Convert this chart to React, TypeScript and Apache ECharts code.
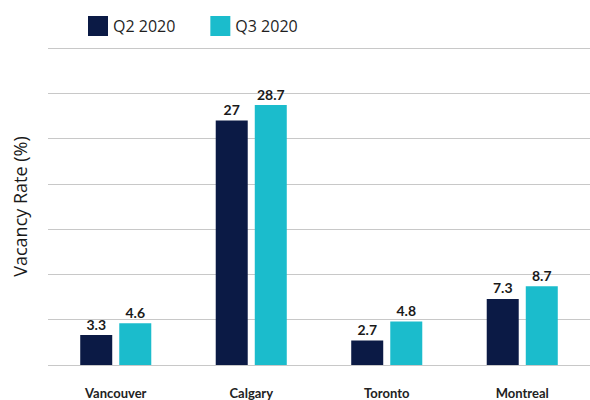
import React, { useEffect, useRef } from "react";
import * as echarts from "echarts";

const categories = ["Vancouver", "Calgary", "Toronto", "Montreal"];
const q2Values = [3.3, 27, 2.7, 7.3];
const q3Values = [4.6, 28.7, 4.8, 8.7];
const seriesNames = ["Q2 2020", "Q3 2020"];

export default function App() {
  const ref = useRef<HTMLDivElement>(null);
  useEffect(() => {
    if (!ref.current) return;
    const chart = echarts.init(ref.current, null, { renderer: "svg" });
    const labelStyle = {
      show: true,
      position: "top",
      distance: 4,
      color: "#1a1a1a",
      fontWeight: "bold",
      fontSize: 14,
      fontFamily: "Lato",
    };
    chart.setOption({
      animation: false,
      legend: {
        top: 11,
        left: 83,
        itemWidth: 20,
        itemHeight: 20,
        itemGap: 35,
        icon: "rect",
        textStyle: { fontSize: 16, color: "#1f1f1f", fontFamily: "Open Sans" },
        data: seriesNames,
      },
      grid: { left: 48, right: -10, top: 48, bottom: 35 },
      xAxis: {
        type: "category",
        data: categories,
        axisLine: { show: false },
        axisTick: { show: false },
        axisLabel: {
          margin: 21,
          color: "#222",
          fontSize: 13,
          fontWeight: "bold",
          fontFamily: "Lato",
        },
      },
      yAxis: {
        type: "value",
        min: 0,
        max: 35,
        interval: 5,
        name: "Vacancy Rate (%)",
        nameLocation: "middle",
        nameGap: 19,
        nameRotate: 90,
        nameTextStyle: { fontSize: 18, color: "#1a1a1a", fontFamily: "Open Sans" },
        axisLabel: { show: false },
        axisLine: { show: false },
        axisTick: { show: false },
        splitLine: { lineStyle: { color: "#c8c8c8", width: 1 } },
      },
      series: [
        {
          name: seriesNames[0],
          type: "bar",
          data: q2Values,
          barWidth: 32,
          barGap: "22%",
          itemStyle: { color: "#0b1a45" },
          label: labelStyle,
        },
        {
          name: seriesNames[1],
          type: "bar",
          data: q3Values,
          barWidth: 32,
          barGap: "22%",
          itemStyle: { color: "#1bbccc" },
          label: labelStyle,
        },
      ],
    });
    return () => chart.dispose();
  }, []);
  return (
    <div
      ref={ref}
      style={{ position: "absolute", left: 0, top: 0, width: 590, height: 400 }}
    />
  );
}
